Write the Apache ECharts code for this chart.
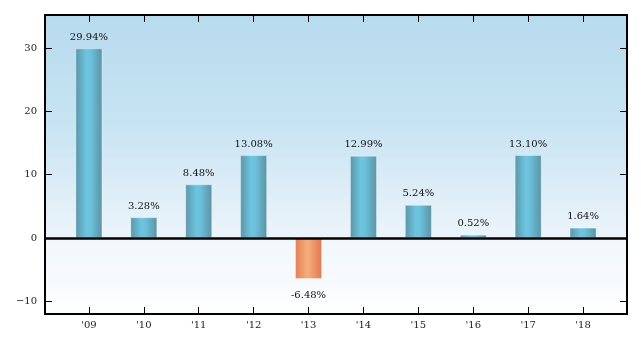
<!DOCTYPE html>
<html>
<head>
<meta charset="utf-8">
<script src="https://cdn.jsdelivr.net/npm/echarts@6/dist/echarts.min.js"></script>
<style>
  html, body { margin: 0; padding: 0; background: #fff; }
  #chart { width: 641px; height: 347px; }
</style>
</head>
<body>
<div id="chart"></div>
<script>
// Annual returns by year
const years = ["'09", "'10", "'11", "'12", "'13", "'14", "'15", "'16", "'17", "'18"];
const returns = [29.94, 3.28, 8.48, 13.08, -6.48, 12.99, 5.24, 0.52, 13.10, 1.64];
const yTicks = [-10, 0, 10, 20, 30];
const xTicks = years.map((_, i) => i);

const FONT = 'DejaVu Serif';

const blueBar = {
  type: 'linear', x: 0, y: 0, x2: 1, y2: 0,
  colorStops: [
    { offset: 0, color: '#5b95a6' },
    { offset: 0.4, color: '#6cc4de' },
    { offset: 0.55, color: '#6bc2dc' },
    { offset: 1, color: '#5b92a2' }
  ]
};
const orangeBar = {
  type: 'linear', x: 0, y: 0, x2: 1, y2: 0,
  colorStops: [
    { offset: 0, color: '#e57b50' },
    { offset: 0.45, color: '#f5ad7c' },
    { offset: 0.55, color: '#f3a677' },
    { offset: 1, color: '#e4774c' }
  ]
};

const barData = returns.map((v, i) => ({
  value: [i, v],
  itemStyle: { color: v < 0 ? orangeBar : blueBar },
  label: v < 0 ? { position: 'bottom', distance: 11 } : { position: 'top', distance: 6 }
}));

const fmtTick = v => (v < 0 ? '\u2212' + Math.abs(v) : String(v));

const tickStyle = { color: '#000', width: 1 };

function xAxisDef(pos, withLabels) {
  return {
    type: 'value', position: pos, min: -0.8, max: 9.8,
    splitLine: { show: false },
    axisLine: { show: false, onZero: false },
    axisTick: { show: true, inside: true, length: 7, customValues: xTicks, lineStyle: tickStyle },
    axisLabel: { show: withLabels, customValues: xTicks, margin: 6, color: '#222',
      fontFamily: FONT, fontSize: 10, formatter: v => years[Math.round(v)] }
  };
}
function yAxisDef(pos, withLabels) {
  return {
    type: 'value', position: pos, min: -12, max: 35.2,
    splitLine: { show: false },
    axisLine: { show: false, onZero: false },
    axisTick: { show: true, inside: true, length: 7, customValues: yTicks, lineStyle: tickStyle },
    axisLabel: { show: withLabels, customValues: yTicks, margin: 8, color: '#222',
      fontFamily: FONT, fontSize: 10, formatter: fmtTick }
  };
}

const chart = echarts.init(document.getElementById('chart'), null, { renderer: 'canvas' });
chart.setOption({
  animation: false,
  backgroundColor: '#ffffff',
  textStyle: { fontFamily: FONT },
  grid: {
    left: 45, right: 14, top: 15, bottom: 33,
    show: true,
    borderColor: '#000', borderWidth: 2,
    backgroundColor: {
      type: 'linear', x: 0, y: 0, x2: 0, y2: 1,
      colorStops: [
        { offset: 0, color: '#b7dbee' },
        { offset: 0.35, color: '#c6e3f2' },
        { offset: 0.745, color: '#ecf4fa' },
        { offset: 0.755, color: '#f1f7fb' },
        { offset: 1, color: '#fdfeff' }
      ]
    }
  },
  xAxis: [xAxisDef('bottom', true), xAxisDef('top', false)],
  yAxis: [yAxisDef('left', true), yAxisDef('right', false)],
  series: [
    {
      type: 'bar',
      xAxisIndex: 0, yAxisIndex: 0,
      barWidth: 27,
      data: barData,
      itemStyle: { borderColor: 'rgba(255,255,255,0.35)', borderWidth: 1 },
      label: {
        show: true, color: '#111',
        fontFamily: FONT, fontSize: 10,
        formatter: p => p.value[1].toFixed(2) + '%'
      },
      markLine: {
        silent: true, symbol: 'none', label: { show: false },
        lineStyle: { color: '#000', width: 2.5, type: 'solid' },
        data: [{ yAxis: 0 }]
      },
      z: 2
    }
  ]
});
</script>
</body>
</html>
